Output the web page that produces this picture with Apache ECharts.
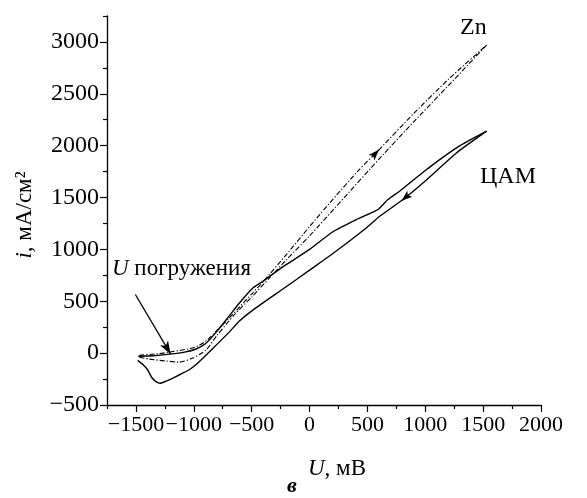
<!DOCTYPE html>
<html>
<head>
<meta charset="utf-8">
<script src="https://cdn.jsdelivr.net/npm/echarts@6/dist/echarts.min.js"></script>
<style>
  html, body { margin: 0; background: #fff; }
  #chart { width: 587px; height: 498px; }
</style>
</head>
<body>
<div id="chart"></div>
<script>
const xTicks = [-1500, -1000, -500, 0, 500, 1000, 1500, 2000];
const xMinorTicks = [-1750, -1250, -750, -250, 250, 750, 1250, 1750];
const yTicks = [-500, 0, 500, 1000, 1500, 2000, 2500, 3000];
const yMinorTicks = [-250, 250, 750, 1250, 1750, 2250, 2750, 3250];

// Zn, forward scan (upper dash-dot line)
const znFwdU = [-1470, -1300, -1180, -1050, -960, -880, -800, -700, -600, -500, -400, -200, 0, 200, 430, 600, 900, 1200, 1530];
const znFwdI = [-20, -5, 16, 40, 70, 130, 220, 330, 450, 570, 690, 950, 1220, 1480, 1770, 1960, 2310, 2640, 2970];
// Zn, reverse scan (lower dash-dot line)
const znRevU = [1530, 1200, 900, 600, 300, 0, -200, -350, -500, -650, -800, -894, -1009, -1125, -1250, -1384, -1470];
const znRevI = [2970, 2580, 2230, 1870, 1500, 1130, 900, 720, 540, 370, 170, 30, -48, -87, -75, -58, -40];

// ЦАМ, forward and reverse branches (solid)
const camFwdU = [-1480, -1350, -1210, -1080, -980, -900, -800, -700, -606, -490, -404, -346, -202, 0, 202, 404, 533, 591, 678, 778, 1000, 1125, 1300, 1530];
const camFwdI = [-30, -25, -10, 10, 40, 90, 210, 350, 483, 628, 692, 740, 853, 1000, 1170, 1287, 1352, 1384, 1481, 1561, 1760, 1866, 2000, 2140];
const camRevU = [1530, 1269, 1000, 807, 606, 490, 202, 0, -202, -490, -606, -692, -836, -980, -1040, -1100, -1180, -1240, -1290, -1320, -1360, -1400, -1440, -1485];
const camRevI = [2140, 1930, 1660, 1481, 1319, 1207, 960, 800, 640, 415, 310, 205, 45, -110, -160, -195, -240, -270, -290, -280, -240, -160, -110, -70];

// arrows: [from, to] in data units
const znArrow = [[545, 1895], [600, 1960]];
const camArrow = [[860, 1530], [795, 1468]];
const immersionArrow = [[-1505, 565], [-1200, -10]];

const FONT = '"Liberation Serif", "Times New Roman", serif';
const minus = (v) => String(v).replace('-', '\u2212');
const zip = (us, is) => us.map((u, k) => [u, is[k]]);

const chart = echarts.init(document.getElementById('chart'));

function arrowMark(seg, size) {
  return {
    silent: true,
    symbol: ['none', 'arrow'],
    symbolSize: size,
    label: { show: false },
    lineStyle: { type: 'solid', color: '#000', width: 1.3 },
    data: [[{ coord: seg[0] }, { coord: seg[1] }]]
  };
}

const baseX = {
  type: 'value', min: -1750, max: 2000, position: 'bottom',
  splitLine: { show: false }
};
const baseY = {
  type: 'value', min: -500, max: 3250, position: 'left',
  splitLine: { show: false }
};

chart.setOption({
  animation: false,
  backgroundColor: '#fff',
  grid: { left: 107, right: 46, top: 16, bottom: 93 },
  xAxis: [
    Object.assign({}, baseX, {
      axisLine: { onZero: false, lineStyle: { color: '#000', width: 1.3 } },
      axisTick: { customValues: xTicks, length: 7, lineStyle: { color: '#000', width: 1.2 } },
      axisLabel: {
        customValues: xTicks, margin: 9, formatter: minus,
        hideOverlap: false, showMinLabel: true, showMaxLabel: true,
        color: '#000', fontFamily: FONT, fontSize: 22
      }
    }),
    Object.assign({}, baseX, {
      axisLine: { show: false, onZero: false },
      axisTick: { customValues: xMinorTicks, length: 4, lineStyle: { color: '#000', width: 1.2 } },
      axisLabel: { show: false }
    })
  ],
  yAxis: [
    Object.assign({}, baseY, {
      axisLine: { onZero: false, lineStyle: { color: '#000', width: 1.3 } },
      axisTick: { customValues: yTicks, length: 7, lineStyle: { color: '#000', width: 1.2 } },
      axisLabel: {
        customValues: yTicks, margin: 8, formatter: minus, showMinLabel: true, showMaxLabel: true,
        color: '#000', fontFamily: FONT, fontSize: 24
      }
    }),
    Object.assign({}, baseY, {
      axisLine: { show: false, onZero: false },
      axisTick: { customValues: yMinorTicks, length: 4, lineStyle: { color: '#000', width: 1.2 } },
      axisLabel: { show: false }
    })
  ],
  series: [
    {
      name: 'Zn forward', type: 'line', smooth: 0.2, symbol: 'none',
      data: zip(znFwdU, znFwdI),
      lineStyle: { color: '#000', width: 1.1, type: [5, 2, 1.2, 2] },
      markLine: arrowMark(znArrow, [6, 11])
    },
    {
      name: 'Zn reverse', type: 'line', smooth: 0.2, symbol: 'none',
      data: zip(znRevU, znRevI),
      lineStyle: { color: '#000', width: 1.1, type: [5, 2, 1.2, 2] }
    },
    {
      name: 'ЦАМ forward', type: 'line', smooth: 0.2, symbol: 'none',
      data: zip(camFwdU, camFwdI),
      lineStyle: { color: '#000', width: 1.4 },
      markLine: arrowMark(immersionArrow, [7, 13])
    },
    {
      name: 'ЦАМ reverse', type: 'line', smooth: 0.2, symbol: 'none',
      data: zip(camRevU, camRevI),
      lineStyle: { color: '#000', width: 1.4 },
      markLine: arrowMark(camArrow, [6, 11])
    }
  ],
  graphic: [
    { type: 'text', x: 460, y: 28, style: { text: 'Zn', fill: '#000', font: '24px "Liberation Serif"', align: 'left', verticalAlign: 'middle' } },
    { type: 'text', x: 480, y: 177, style: { text: 'ЦАМ', fill: '#000', font: '24px "Liberation Serif"', align: 'left', verticalAlign: 'middle' } },
    {
      type: 'text', x: 112, y: 269,
      style: {
        text: '{it|U} погружения', fill: '#000', font: '23px "Liberation Serif"', align: 'left', verticalAlign: 'middle',
        rich: { it: { fontStyle: 'italic', fontFamily: FONT, fontSize: 23 } }
      }
    },
    {
      type: 'text', x: 337, y: 469,
      style: {
        text: '{it|U}, мВ', fill: '#000', font: '23px "Liberation Serif"', align: 'center', verticalAlign: 'middle',
        rich: { it: { fontStyle: 'italic', fontFamily: FONT, fontSize: 23 } }
      }
    },
    {
      type: 'text', x: 25, y: 215, rotation: Math.PI / 2,
      style: {
        text: '{it|i}, мА/см²', fill: '#000', font: '23px "Liberation Serif"', align: 'center', verticalAlign: 'middle',
        rich: { it: { fontStyle: 'italic', fontFamily: FONT, fontSize: 23 } }
      }
    },
    { type: 'text', x: 292, y: 486, style: { text: 'в', fill: '#000', font: 'italic bold 22px "Liberation Serif"', align: 'center', verticalAlign: 'middle' } }
  ]
});
</script>
</body>
</html>
